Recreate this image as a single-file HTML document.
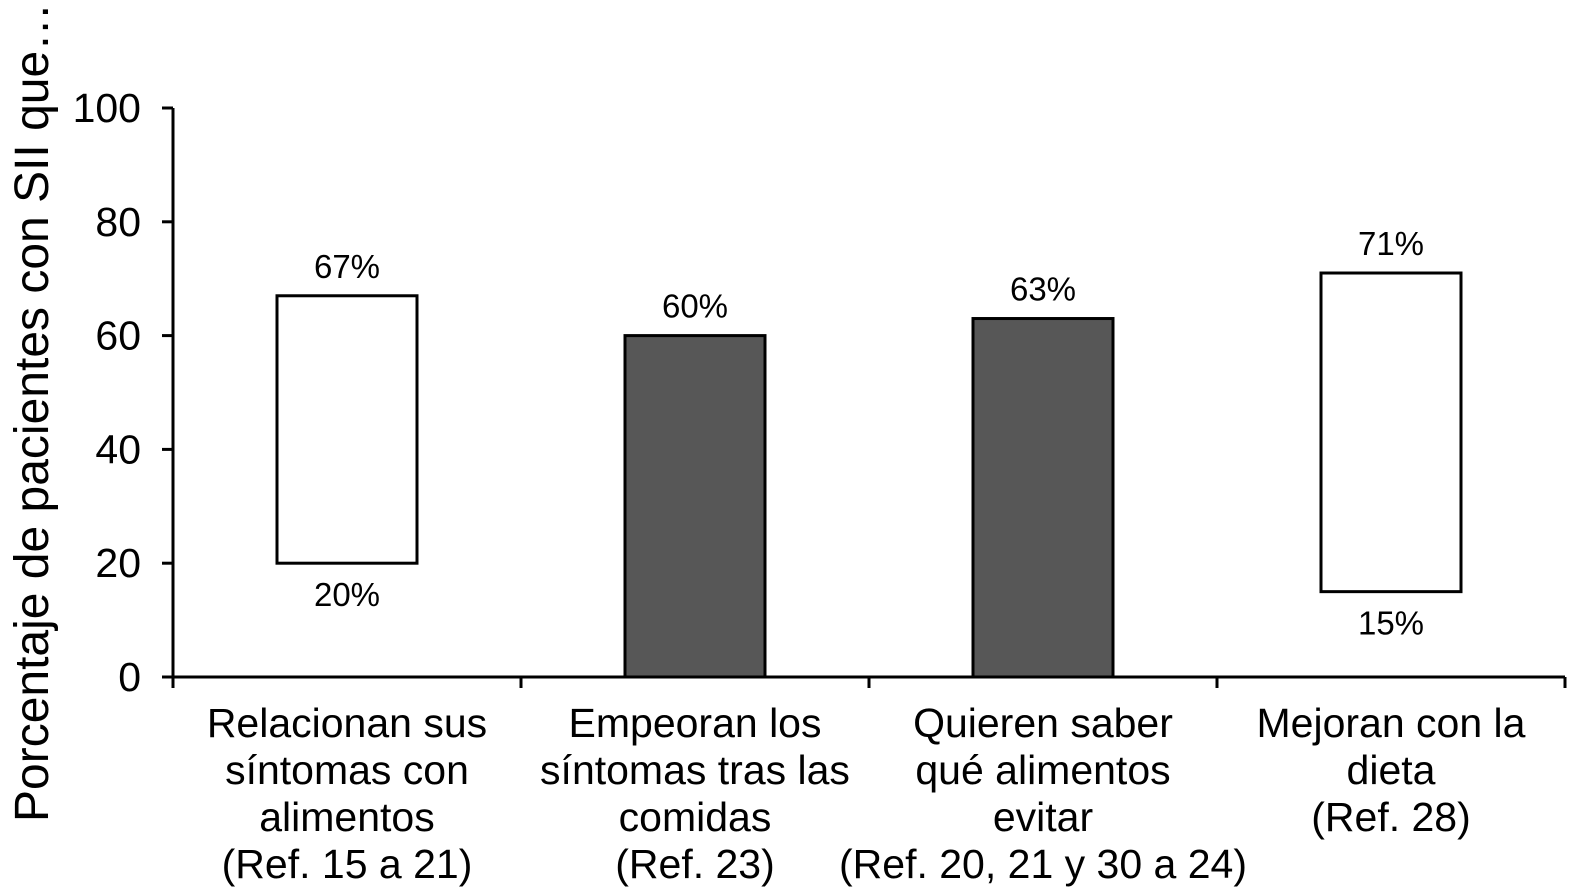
<!DOCTYPE html>
<html><head><meta charset="utf-8">
<style>
html,body{margin:0;padding:0;background:#fff;overflow:hidden;}
svg{display:block;font-family:"Liberation Sans",Arial,sans-serif;}
</style></head>
<body>
<svg id="chart" width="1588" height="895" viewBox="0 0 1588 895" xmlns="http://www.w3.org/2000/svg">
<text transform="translate(48,822) rotate(-90)" font-size="48" fill="#000">Porcentaje de pacientes con SII que…</text>
</svg>
<script>
const categories = [
  ["Relacionan sus","síntomas con","alimentos","(Ref. 15 a 21)"],
  ["Empeoran los","síntomas tras las","comidas","(Ref. 23)"],
  ["Quieren saber","qué alimentos","evitar","(Ref. 20, 21 y 30 a 24)"],
  ["Mejoran con la","dieta","(Ref. 28)"]
];
const lowValues = [20, 0, 0, 15];
const highValues = [67, 60, 63, 71];
const isRange = [true, false, false, true];
const yTicks = [0, 20, 40, 60, 80, 100];

const svg = document.getElementById('chart');
const NS = 'http://www.w3.org/2000/svg';
const x0 = 173, x1 = 1565, yBase = 677, yTop = 108;
const y = v => yBase - (yBase - yTop) * v / 100;
const band = (x1 - x0) / categories.length;
const xc = i => x0 + band * (i + 0.5);
const barW = 140;

function mk(tag, attrs) {
  const e = document.createElementNS(NS, tag);
  for (const k in attrs) e.setAttribute(k, attrs[k]);
  svg.appendChild(e);
  return e;
}

let ax = mk('line', {x1: x0, y1: yTop, x2: x0, y2: yBase, stroke: '#000', 'stroke-width': 3});


let bx = mk('line', {x1: x0 - 1.5, y1: yBase, x2: x1, y2: yBase, stroke: '#000', 'stroke-width': 3});



yTicks.forEach(t => {
  const tk = mk('line', {x1: x0 - 11, y1: y(t), x2: x0, y2: y(t), stroke: '#000', 'stroke-width': 3});
  
  
  const lb = mk('text', {x: x0 - 32, y: y(t) + 14, 'text-anchor': 'end', 'font-size': 41});
  lb.textContent = t;
  
  
});

for (let i = 0; i <= categories.length; i++) {
  const xx = x0 + band * i;
  const tk = mk('line', {x1: xx, y1: yBase, x2: xx, y2: yBase + 11, stroke: '#000', 'stroke-width': 3});
  
  
}

categories.forEach((lines, i) => {
  const c = xc(i);
  const top = y(highValues[i]), bot = y(lowValues[i]);
  const r = mk('rect', {x: c - barW / 2, y: top, width: barW, height: bot - top,
    fill: isRange[i] ? '#fff' : '#575757', stroke: '#000', 'stroke-width': 3});
  
  
  const hl = mk('text', {x: c, y: top - 18, 'text-anchor': 'middle', 'font-size': 33});
  hl.textContent = highValues[i] + '%';
  
  
  if (isRange[i]) {
    const ll = mk('text', {x: c, y: bot + 43, 'text-anchor': 'middle', 'font-size': 33});
    ll.textContent = lowValues[i] + '%';
    
    
  }
  lines.forEach((ln, j) => {
    const t = mk('text', {x: c, y: 737 + j * 47, 'text-anchor': 'middle', 'font-size': 41});
    t.textContent = ln;
    
    
  });
});
</script>
</body></html>
